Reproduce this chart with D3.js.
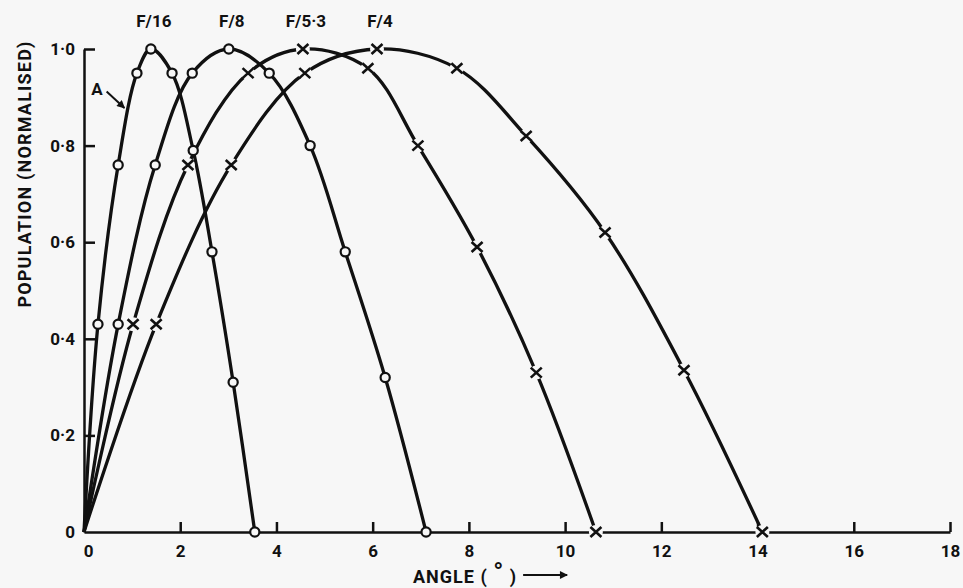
<!DOCTYPE html>
<html>
<head>
<meta charset="utf-8">
<script src="https://cdn.jsdelivr.net/npm/d3@7"></script>
<style>
  body { margin: 0; background: #f7f7f7; }
  svg { display: block; }
  text { font-family: Roboto, "DejaVu Sans", sans-serif; font-weight: 700; fill: #111; }
</style>
</head>
<body>
<script>
// axis ticks
var xTicks = [0, 2, 4, 6, 8, 10, 12, 14, 16, 18];
var yTicks = [0, 0.2, 0.4, 0.6, 0.8, 1.0];
var yTickLabels = ["0", "0·2", "0·4", "0·6", "0·8", "1·0"];

// series (angle in degrees, normalised population)
var seriesNames = ["F/16", "F/8", "F/5·3", "F/4"];
var seriesMarkers = ["circle", "circle", "cross", "cross"];

var f16Angle = [0, 0.29, 0.71, 1.10, 1.39, 1.83, 2.27, 2.66, 3.10, 3.55];
var f16Pop   = [0, 0.43, 0.76, 0.95, 1.00, 0.95, 0.79, 0.58, 0.31, 0];

var f8Angle = [0, 0.71, 1.48, 2.25, 3.01, 3.85, 4.70, 5.43, 6.26, 7.11];
var f8Pop   = [0, 0.43, 0.76, 0.95, 1.00, 0.95, 0.80, 0.58, 0.32, 0];

var f53Angle = [0, 1.02, 2.16, 3.41, 4.55, 5.90, 6.94, 8.17, 9.40, 10.64];
var f53Pop   = [0, 0.43, 0.76, 0.95, 1.00, 0.96, 0.80, 0.59, 0.33, 0];

var f4Angle = [0, 1.50, 3.06, 4.59, 6.09, 7.75, 9.19, 10.83, 12.47, 14.10];
var f4Pop   = [0, 0.43, 0.76, 0.95, 1.00, 0.96, 0.82, 0.62, 0.335, 0];

var angles = [f16Angle, f8Angle, f53Angle, f4Angle];
var pops = [f16Pop, f8Pop, f53Pop, f4Pop];

// dimensions
var width = 963;
var height = 588;
var bg = "#f7f7f7";
var ink = "#111";

var svg = d3.select("body")
    .append("svg")
    .attr("width", width)
    .attr("height", height);

var x = d3.scaleLinear().domain([0, 18]).range([84, 950]);
var y = d3.scaleLinear().domain([0, 1]).range([532, 49]);

// axes, ticks pointing inwards
var xAxis = svg.append("g")
    .attr("transform", "translate(0," + y(0) + ")")
    .call(d3.axisBottom(x)
        .tickValues(xTicks)
        .tickSize(-10)
        .tickSizeOuter(0)
        .tickPadding(13)
        .tickFormat(function(d) { return String(d); }));

var yAxis = svg.append("g")
    .attr("transform", "translate(" + x(0) + ",0)")
    .call(d3.axisLeft(y)
        .tickValues(yTicks)
        .tickSize(-11)
        .tickSizeOuter(0)
        .tickPadding(9)
        .tickFormat(function(d, i) { return yTickLabels[i]; }));

[xAxis, yAxis].forEach(function(a) {
    a.selectAll("path, line").attr("stroke", ink).attr("stroke-width", 2.5);
    a.selectAll("text").attr("fill", ink).style("font-size", "17px").style("font-weight", 700);
});
// no tick at the origin
xAxis.selectAll(".tick").filter(function(d) { return d === 0; }).select("line").remove();
yAxis.selectAll(".tick").filter(function(d) { return d === 0; }).select("line").remove();
xAxis.selectAll(".tick").filter(function(d) { return d === 0; }).select("text").attr("x", 4);

// curves
var line = d3.line()
    .x(function(d) { return x(d[0]); })
    .y(function(d) { return y(d[1]); })
    .curve(d3.curveCatmullRom.alpha(0.5));

var series = seriesNames.map(function(name, i) {
    return {
        name: name,
        marker: seriesMarkers[i],
        points: d3.zip(angles[i], pops[i])
    };
});

svg.selectAll(".curve")
    .data(series)
    .enter()
    .append("path")
    .attr("class", "curve")
    .attr("d", function(d) { return line(d.points); })
    .attr("fill", "none")
    .attr("stroke", ink)
    .attr("stroke-width", 3.3)
    .attr("stroke-linejoin", "round");

// markers (origin point has none)
series.forEach(function(s) {
    var pts = s.points.slice(1);
    var g = svg.append("g");
    if (s.marker === "circle") {
        g.selectAll("circle")
            .data(pts)
            .enter()
            .append("circle")
            .attr("cx", function(d) { return x(d[0]); })
            .attr("cy", function(d) { return y(d[1]); })
            .attr("r", 4.6)
            .attr("fill", bg)
            .attr("stroke", ink)
            .attr("stroke-width", 2.2);
    } else {
        var m = g.selectAll("g")
            .data(pts)
            .enter()
            .append("g")
            .attr("transform", function(d) { return "translate(" + x(d[0]) + "," + y(d[1]) + ")"; });
        // small gap in the line round each cross
        m.append("circle").attr("r", 7).attr("fill", bg);
        m.append("path")
            .attr("d", "M-5.5,-5L5.5,5M-5.5,5L5.5,-5")
            .attr("stroke", ink)
            .attr("stroke-width", 2.6);
    }
});

// series labels above each peak
series.forEach(function(s) {
    var peak = s.points.reduce(function(a, b) { return b[1] > a[1] ? b : a; });
    svg.append("text")
        .attr("x", x(peak[0]) + 3)
        .attr("y", 27)
        .attr("text-anchor", "middle")
        .style("font-size", "17px")
        .text(s.name);
});

// "A" annotation pointing at the F/16 curve
var defs = svg.append("defs");
defs.append("marker")
    .attr("id", "head")
    .attr("viewBox", "0 0 10 10")
    .attr("refX", 9)
    .attr("refY", 5)
    .attr("markerWidth", 5)
    .attr("markerHeight", 4)
    .attr("orient", "auto")
    .append("path")
    .attr("d", "M0,0L10,5L0,10Z")
    .attr("fill", ink);

svg.append("text")
    .attr("x", x(0.27))
    .attr("y", y(0.905))
    .attr("text-anchor", "middle")
    .style("font-size", "17px")
    .text("A");

svg.append("line")
    .attr("x1", x(0.47)).attr("y1", y(0.912))
    .attr("x2", x(0.84)).attr("y2", y(0.878))
    .attr("stroke", ink)
    .attr("stroke-width", 2)
    .attr("marker-end", "url(#head)");

// axis titles
svg.append("text")
    .attr("transform", "translate(31,174) rotate(-90)")
    .attr("text-anchor", "middle")
    .style("font-size", "18px")
    .style("letter-spacing", "1.2px")
    .text("POPULATION (NORMALISED)");

var xt = svg.append("text")
    .attr("x", 413)
    .attr("y", 583)
    .style("font-size", "18px")
    .style("letter-spacing", "1px");
xt.append("tspan").text("ANGLE ( ");
xt.append("tspan").attr("dy", -2).style("font-size", "26px").text("°");
xt.append("tspan").attr("dy", 2).text(" )");

var tEnd = 413 + xt.node().getComputedTextLength();
svg.append("line")
    .attr("x1", tEnd + 6).attr("y1", 575)
    .attr("x2", tEnd + 50).attr("y2", 575)
    .attr("stroke", ink)
    .attr("stroke-width", 2)
    .attr("marker-end", "url(#head)");
</script>
</body>
</html>
